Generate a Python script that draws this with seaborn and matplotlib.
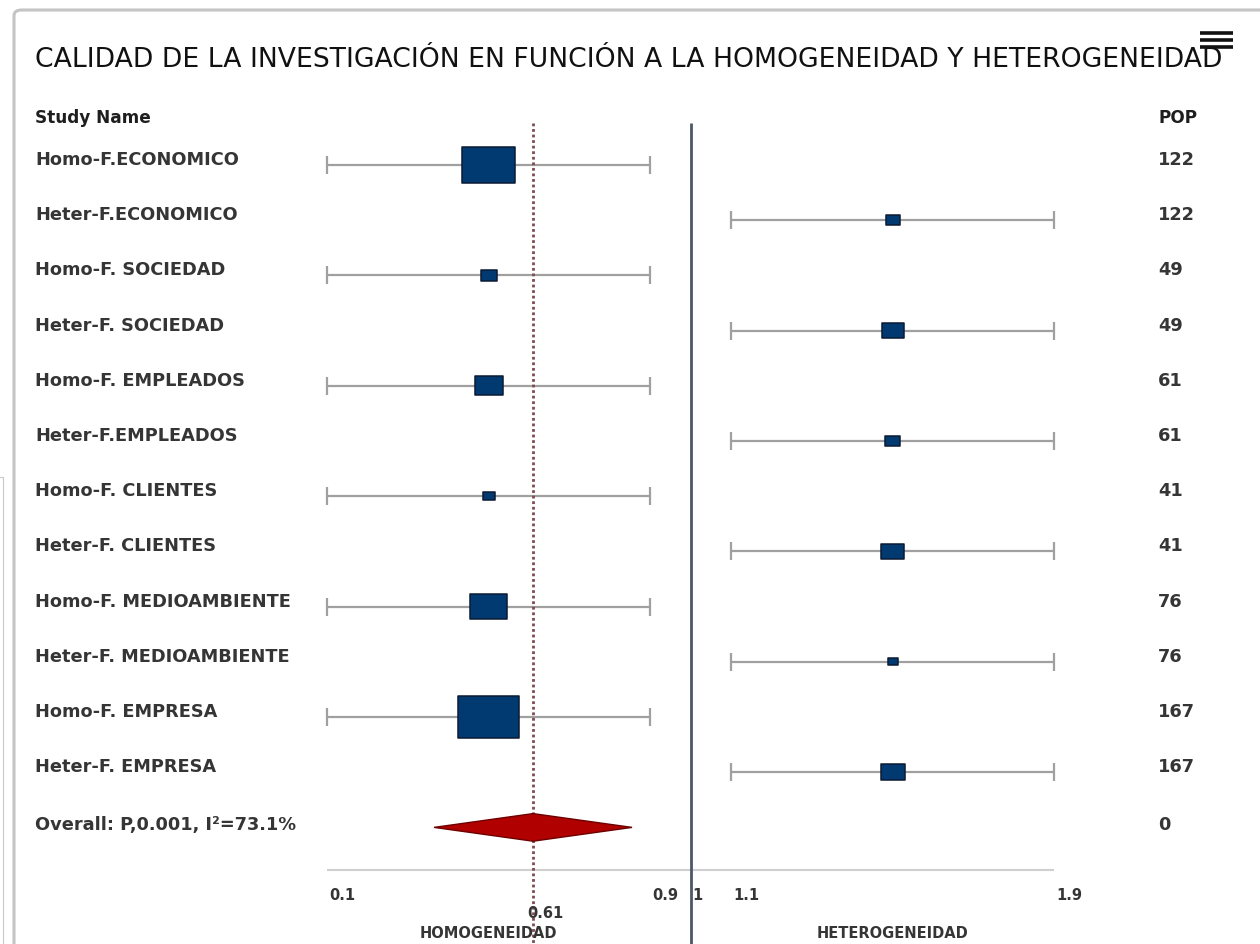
import numpy as np
import pandas as pd
import matplotlib
matplotlib.use("Agg")
import matplotlib.pyplot as plt
import matplotlib.transforms as mtransforms
from matplotlib.path import Path
from matplotlib.markers import MarkerStyle
from matplotlib.patches import FancyBboxPatch
from matplotlib.lines import Line2D
import seaborn as sns

# ---- study data -----------------------------------------------------------
study_names = [
    "Homo-F.ECONOMICO", "Heter-F.ECONOMICO",
    "Homo-F. SOCIEDAD", "Heter-F. SOCIEDAD",
    "Homo-F. EMPLEADOS", "Heter-F.EMPLEADOS",
    "Homo-F. CLIENTES", "Heter-F. CLIENTES",
    "Homo-F. MEDIOAMBIENTE", "Heter-F. MEDIOAMBIENTE",
    "Homo-F. EMPRESA", "Heter-F. EMPRESA",
]
pop = [122, 122, 49, 49, 61, 61, 41, 41, 76, 76, 167, 167]
estimate = [0.5, 1.5, 0.5, 1.5, 0.5, 1.5, 0.5, 1.5, 0.5, 1.5, 0.5, 1.5]
ci_low = [0.1, 1.1, 0.1, 1.1, 0.1, 1.1, 0.1, 1.1, 0.1, 1.1, 0.1, 1.1]
ci_high = [0.9, 1.9, 0.9, 1.9, 0.9, 1.9, 0.9, 1.9, 0.9, 1.9, 0.9, 1.9]
weight = [25.10, 1.75, 2.29, 4.32, 7.00, 2.01, 1.29, 4.73, 12.23, 0.89, 33.24, 5.15]

overall_label = "Overall: P,0.001, I²=73.1%"
overall_est = 0.61
overall_low = 0.365
overall_high = 0.855
overall_pop = 0

tick_values = [0.1, 0.9, 1, 1.1, 1.9]
tick_labels = ["0.1", "0.9", "1", "1.1", "1.9"]
null_value = 1.0

title = "CALIDAD DE LA INVESTIGACIÓN EN FUNCIÓN A LA HOMOGENEIDAD Y HETEROGENEIDAD"
left_title = "HOMOGENEIDAD"
right_title = "HETEROGENEIDAD"

df = pd.DataFrame({
    "study": study_names,
    "pop": pop,
    "est": estimate,
    "low": ci_low,
    "high": ci_high,
    "weight": weight,
})
df["row"] = np.arange(len(df))
overall_row = len(df)

# ---- figure / axes layout -------------------------------------------------
W, H, DPI = 1260, 944, 100
sns.set_theme(style="white")
plt.rcParams["font.family"] = ["DejaVu Sans"]

fig = plt.figure(figsize=(W / DPI, H / DPI), dpi=DPI)
ax = fig.add_axes([0, 0, 1, 1])
ax.set_axis_off()

PX_PER_UNIT = 404.0
x_left = 0.1 - 327 / PX_PER_UNIT
ax.set_xlim(x_left, x_left + W / PX_PER_UNIT)
ROW0_PX, ROW_PX = 165.0, 55.2
ax.set_ylim((H - ROW0_PX) / ROW_PX, -ROW0_PX / ROW_PX)


def row_of(py):
    return (py - ROW0_PX) / ROW_PX


fig_x = mtransforms.blended_transform_factory(fig.transFigure, ax.transData)

TEXT_COLOR = "#353535"
LABEL_SIZE = 12.8

# outer panel frame
frame = FancyBboxPatch((14 / W, -0.05), 1.2, 1 - 10 / H + 0.05,
                       boxstyle="round,pad=0,rounding_size=0.006",
                       transform=fig.transFigure, fill=False,
                       edgecolor="#c4c4c4", linewidth=2.2, zorder=0)
fig.patches.append(frame)
fig.add_artist(Line2D([3 / W, 3 / W], [0, 1 - 477 / H], transform=fig.transFigure,
                      color="#c8c8c8", linewidth=0.8))
fig.add_artist(Line2D([0, 3 / W], [1 - 477 / H, 1 - 477 / H], transform=fig.transFigure,
                      color="#c8c8c8", linewidth=0.8))

# menu icon
for py in (33, 40, 47):
    fig.add_artist(Line2D([1200 / W, 1233 / W], [1 - py / H, 1 - py / H],
                          transform=fig.transFigure, color="#111111",
                          linewidth=2.6, solid_capstyle="butt"))

# title
fig.text(35 / W, 1 - 60 / H, title, fontsize=19.2, color="#111111",
         ha="left", va="center")

# column headers
ax.text(35 / W, row_of(118), "Study Name", transform=fig_x, fontsize=12.2,
        fontweight="bold", color="#1e1e1e", ha="left", va="center")
ax.text(1158 / W, row_of(118), "POP", transform=fig_x, fontsize=12.2,
        fontweight="bold", color="#1e1e1e", ha="left", va="center")

# reference lines
top_row, bottom_row = row_of(123), row_of(H)
ax.vlines(null_value, top_row, bottom_row, color="#4d5866", linewidth=2.0, zorder=2)
ax.vlines(overall_est, top_row, bottom_row, color="#7f4a50", linewidth=2.0,
          linestyles=[(0, (1.0, 1.0))], zorder=2)

# axis baseline and labels
axis_row = row_of(870)
ax.hlines(axis_row, min(tick_values), max(tick_values), color="#cfcfcf",
          linewidth=1.5, zorder=1)
for v, lab in zip(tick_values, tick_labels):
    ax.text(v + 2 / PX_PER_UNIT, row_of(895), lab, fontsize=10.5, fontweight="bold",
            color=TEXT_COLOR, ha="left", va="center")
ax.text(overall_est + 12 / PX_PER_UNIT, row_of(913), f"{overall_est:.2f}",
        fontsize=10.5, fontweight="bold", color=TEXT_COLOR, ha="center", va="center")
ax.text(0.5, row_of(934), left_title, fontsize=10.5, fontweight="bold",
        color=TEXT_COLOR, ha="center", va="center")
ax.text(1.5, row_of(934), right_title, fontsize=10.5, fontweight="bold",
        color=TEXT_COLOR, ha="center", va="center")

# confidence intervals
ax.errorbar(df["est"], df["row"], xerr=[df["est"] - df["low"], df["high"] - df["est"]],
            fmt="none", ecolor="#a0a0a0", elinewidth=1.6, capsize=6.2,
            capthick=1.6, zorder=1)

# weight boxes: area proportional to study weight
box_path = Path([(-0.5, -0.34), (0.5, -0.34), (0.5, 0.34), (-0.5, 0.34), (-0.5, -0.34)],
                [Path.MOVETO, Path.LINETO, Path.LINETO, Path.LINETO, Path.CLOSEPOLY])
sns.scatterplot(data=df, x="est", y="row", size="weight", sizes=(0, 5803),
                size_norm=(0, 100), marker=MarkerStyle(box_path), color="#003a70",
                edgecolor="#0b1a33", linewidth=1.1, legend=False, ax=ax, zorder=3)
ax.set_xlabel("")
ax.set_ylabel("")
ax.set_axis_off()

# pooled estimate diamond
half_h = 0.25
ax.fill([overall_low, overall_est, overall_high, overall_est],
        [overall_row, overall_row - half_h, overall_row, overall_row + half_h],
        facecolor="#b00000", edgecolor="#6e0000", linewidth=1.0, zorder=3)

# row labels and population column
label_shift = -5 / ROW_PX
for r, name, n in zip(df["row"], df["study"], df["pop"]):
    ax.text(35 / W, r + label_shift, name, transform=fig_x, fontsize=LABEL_SIZE,
            fontweight="bold", color=TEXT_COLOR, ha="left", va="center")
    ax.text(1158 / W, r + label_shift, str(n), transform=fig_x, fontsize=LABEL_SIZE,
            fontweight="bold", color=TEXT_COLOR, ha="left", va="center")
ax.text(35 / W, overall_row - 2 / ROW_PX, overall_label, transform=fig_x,
        fontsize=LABEL_SIZE, fontweight="bold", color=TEXT_COLOR, ha="left", va="center")
ax.text(1158 / W, overall_row - 2 / ROW_PX, str(overall_pop), transform=fig_x,
        fontsize=LABEL_SIZE, fontweight="bold", color=TEXT_COLOR, ha="left", va="center")

fig.savefig("out.png", dpi=DPI)
